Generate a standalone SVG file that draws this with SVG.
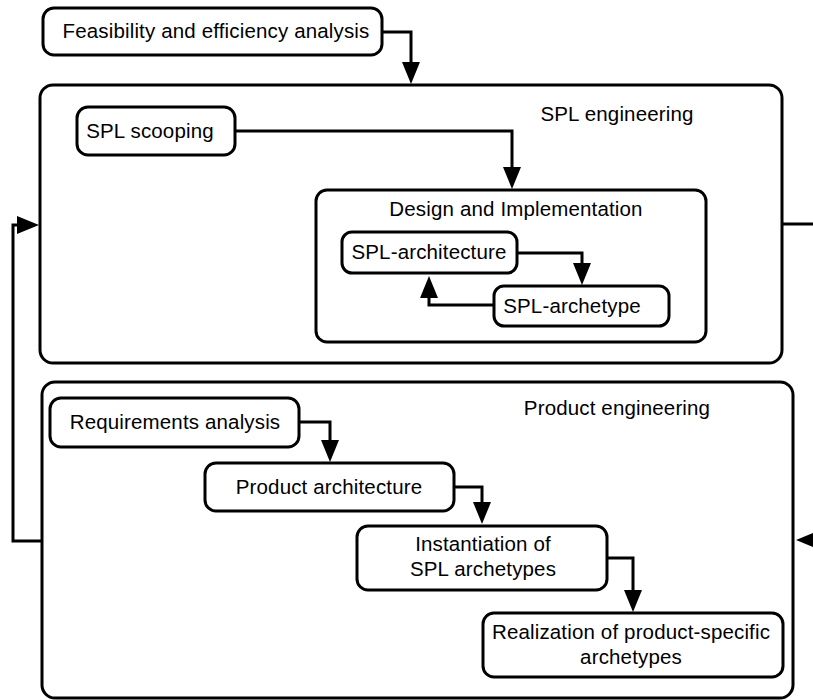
<svg xmlns="http://www.w3.org/2000/svg" width="813" height="700" viewBox="0 0 813 700">
  <style>
    .box { fill: #ffffff; stroke: #000000; stroke-width: 3; }
    .frame { fill: none; stroke: #000000; stroke-width: 3; }
    .lbl { font-family: "Liberation Sans", Arial, Helvetica, sans-serif; font-size: 20.5px; letter-spacing: 0.15px; fill: #000000; text-anchor: middle; }
    .wire { fill: none; stroke: #000000; stroke-width: 3; marker-end: url(#head); }
    .plain { fill: none; stroke: #000000; stroke-width: 3; }
  </style>
  <defs>
    <marker id="head" markerUnits="userSpaceOnUse" markerWidth="23" markerHeight="19" refX="0" refY="9" orient="auto" overflow="visible">
      <path d="M0,0 L22,9 L0,18 Z" fill="#000000"/>
    </marker>
  </defs>
  <rect width="813" height="700" fill="#ffffff"/>

  <!-- outer containers -->
  <g id="spl-engineering">
    <rect class="frame" x="40" y="85" width="742" height="278" rx="13"/>
    <text class="lbl" x="617" y="121">SPL engineering</text>
  </g>
  <g id="product-engineering">
    <rect class="frame" x="42" y="382" width="751" height="316" rx="13"/>
    <text class="lbl" x="617" y="415">Product engineering</text>
  </g>

  <g id="feasibility">
    <rect class="box" x="43" y="8" width="339" height="47" rx="11"/>
    <text class="lbl" x="216" y="38">Feasibility and efficiency analysis</text>
  </g>

  <g id="spl-scooping">
    <rect class="box" x="77" y="107" width="158" height="48" rx="11"/>
    <text class="lbl" x="150" y="138">SPL scooping</text>
  </g>

  <g id="design-implementation">
    <rect class="frame" x="316" y="190" width="390" height="152" rx="11"/>
    <text class="lbl" x="516" y="216">Design and Implementation</text>
  </g>

  <g id="spl-architecture">
    <rect class="box" x="342" y="232" width="175" height="41" rx="10"/>
    <text class="lbl" x="429" y="259">SPL-architecture</text>
  </g>

  <g id="spl-archetype">
    <rect class="box" x="494" y="286" width="175" height="40" rx="10"/>
    <text class="lbl" x="572" y="313">SPL-archetype</text>
  </g>

  <g id="requirements-analysis">
    <rect class="box" x="50" y="398" width="249" height="49" rx="11"/>
    <text class="lbl" x="175" y="429">Requirements analysis</text>
  </g>

  <g id="product-architecture">
    <rect class="box" x="205" y="463" width="249" height="48" rx="11"/>
    <text class="lbl" x="329" y="494">Product architecture</text>
  </g>

  <g id="instantiation">
    <rect class="box" x="357" y="526" width="250" height="64" rx="11"/>
    <text class="lbl" x="483" y="551">Instantiation of</text>
    <text class="lbl" x="483" y="576">SPL archetypes</text>
  </g>

  <g id="realization">
    <rect class="box" x="483" y="613" width="300" height="64" rx="11"/>
    <text class="lbl" x="631" y="639">Realization of product-specific</text>
    <text class="lbl" x="631" y="664">archetypes</text>
  </g>

  <!-- connectors -->
  <g id="connectors">
    <path class="wire" d="M382,32 H411 V62"/>
    <path class="wire" d="M235,131 H512 V167"/>
    <path class="wire" d="M517,253 H582 V263"/>
    <path class="wire" d="M494,305 H429 V298"/>
    <path class="plain" d="M782,224 H815"/>
    <path class="wire" d="M830,540 H818"/>
    <path class="wire" d="M42,541 H13 V225 H17"/>
    <path class="wire" d="M299,422 H330 V440"/>
    <path class="wire" d="M454,487 H482 V502"/>
    <path class="wire" d="M607,558 H633 V590"/>
  </g>
</svg>
